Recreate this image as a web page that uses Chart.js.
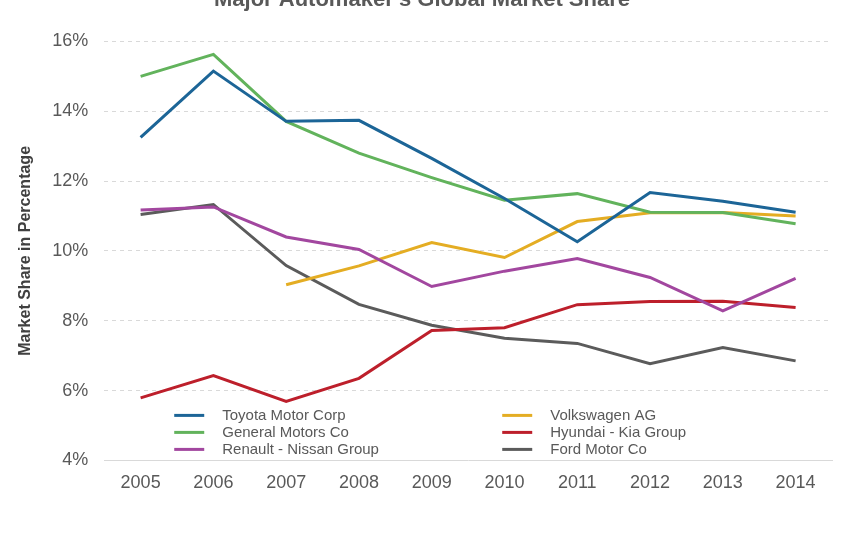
<!DOCTYPE html>
<html>
<head>
<meta charset="utf-8">
<script src="https://cdn.jsdelivr.net/npm/chart.js@4"></script>
<style>
  html, body { margin: 0; padding: 0; background: #fff; overflow: hidden; }
  #wrap { position: relative; width: 845px; height: 556px; margin-top: -20px; }
</style>
</head>
<body>
<div id="wrap"><canvas id="myChart"></canvas></div>
<script>
const years = ['2005', '2006', '2007', '2008', '2009', '2010', '2011', '2012', '2013', '2014'];

const toyota = [13.25, 15.15, 13.71, 13.74, 12.65, 11.5, 10.26, 11.67, 11.42, 11.11];
const gm = [15.0, 15.63, 13.71, 12.8, 12.1, 11.45, 11.64, 11.11, 11.1, 10.78];
const renault = [11.17, 11.26, 10.4, 10.04, 8.98, 9.42, 9.78, 9.24, 8.28, 9.21];
const vw = [null, null, 9.03, 9.57, 10.24, 9.81, 10.84, 11.09, 11.1, 11.0];
const hyundai = [5.79, 6.43, 5.69, 6.35, 7.72, 7.8, 8.46, 8.55, 8.56, 8.38];
const ford = [11.04, 11.33, 9.58, 8.47, 7.87, 7.5, 7.35, 6.77, 7.23, 6.85];

const seriesNames = ['Toyota Motor Corp', 'General Motors Co', 'Renault - Nissan Group',
    'Volkswagen AG', 'Hyundai - Kia Group', 'Ford Motor Co'];
const seriesColors = ['#1c6597', '#62b35c', '#a2479f', '#e4ad23', '#bd1f2b', '#5b5b5b'];
const seriesData = [toyota, gm, renault, vw, hyundai, ford];

// legend sits inside the plot, two columns of three
const insideLegend = {
    id: 'insideLegend',
    afterDatasetsDraw(chart) {
        const ctx = chart.ctx;
        const area = chart.chartArea;
        ctx.save();
        ctx.font = '15px "Liberation Sans", Arial, sans-serif';
        ctx.textBaseline = 'middle';
        ctx.fillStyle = '#595959';
        chart.data.datasets.forEach((ds, i) => {
            const col = Math.floor(i / 3);
            const row = i % 3;
            const x = area.left + 70 + col * 328;
            const y = area.bottom - 45 + row * 17;
            ctx.strokeStyle = ds.borderColor;
            ctx.lineWidth = 3;
            ctx.beginPath();
            ctx.moveTo(x, y);
            ctx.lineTo(x + 30, y);
            ctx.stroke();
            ctx.fillText(ds.label, x + 48, y);
        });
        ctx.restore();
    }
};

const data = {
    labels: years,
    datasets: seriesNames.map((name, i) => ({
        label: name,
        data: seriesData[i],
        borderColor: seriesColors[i],
        backgroundColor: seriesColors[i],
        borderWidth: 3,
        pointRadius: 0,
        tension: 0,
        spanGaps: false
    }))
};

const config = {
    type: 'line',
    data: data,
    options: {
        responsive: true,
        maintainAspectRatio: false,
        animation: false,
        layout: {
            padding: { left: 12, right: 13, top: 0, bottom: 38 }
        },
        plugins: {
            legend: { display: false },
            tooltip: { enabled: false },
            title: {
                display: true,
                text: "Major Automaker's Global Market Share",
                color: '#595959',
                font: { family: '"Liberation Sans", Arial, sans-serif', size: 22, weight: 'bold' },
                padding: { top: 7, bottom: 28 }
            }
        },
        scales: {
            x: {
                offset: true,
                grid: { display: false },
                border: { display: true, color: '#d9d9d9', width: 1 },
                ticks: {
                    color: '#595959',
                    padding: 4,
                    font: { family: '"Liberation Sans", Arial, sans-serif', size: 18 }
                }
            },
            y: {
                min: 4,
                max: 16,
                border: { display: false, dash: [4, 4] },
                grid: { color: '#d9d9d9', lineWidth: 1, drawTicks: false },
                ticks: {
                    stepSize: 2,
                    padding: 16,
                    color: '#595959',
                    font: { family: '"Liberation Sans", Arial, sans-serif', size: 18 },
                    callback: (v) => v + '%'
                },
                title: {
                    display: true,
                    text: 'Market Share in Percentage',
                    color: '#404040',
                    padding: { top: 4, bottom: 1 },
                    font: { family: '"Liberation Sans", Arial, sans-serif', size: 16, weight: 'bold' }
                }
            }
        }
    },
    plugins: [insideLegend]
};

const myChart = new Chart(document.getElementById('myChart'), config);
</script>
</body>
</html>
